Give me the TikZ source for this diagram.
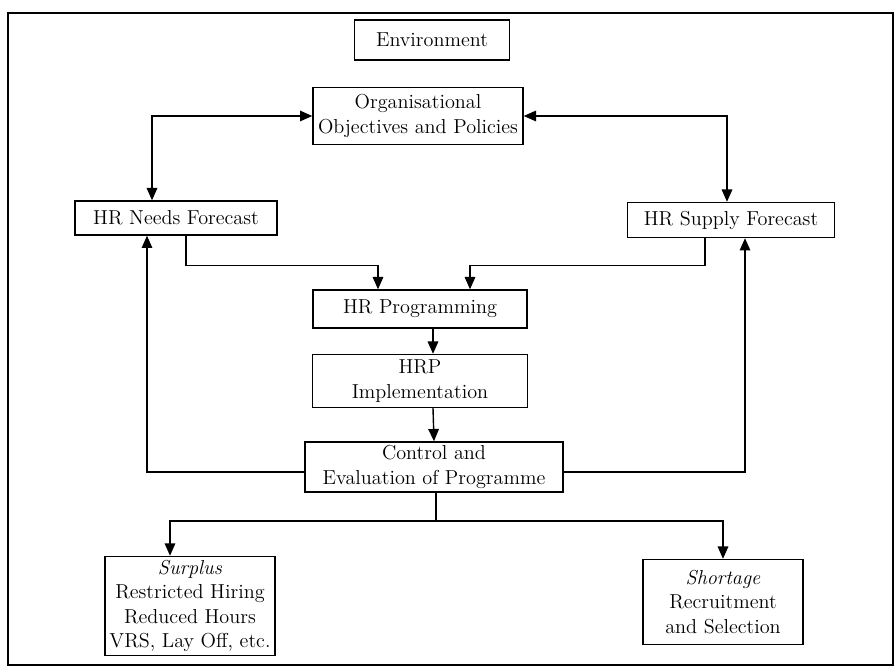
\documentclass[tikz,border=0pt]{standalone}
\usetikzlibrary{arrows.meta}

\begin{document}
\begin{tikzpicture}[
    box/.style={draw,rectangle,line width=0.8pt,align=center,inner sep=2pt,font=\fontsize{11.5}{14}\selectfont},
    link/.style={line width=0.8pt,-{Triangle[width=6pt,length=7pt]}},
    both/.style={line width=0.8pt,{Triangle[width=6pt,length=7pt]}-{Triangle[width=6pt,length=7pt]}}
]
    \useasboundingbox (0,0) rectangle (17.9,13.4);

    % Outer frame
    \draw[line width=1.1pt] (0.16,0.1) rectangle (17.86,13.14);

    % Environment
    \node[box,minimum width=3.1cm,minimum height=0.8cm] (env) at (8.64,12.6) {Environment};

    % Objectives
    \node[box,minimum width=4.2cm,minimum height=1.14cm] (org) at (8.36,11.08) {Organisational\\Objectives and Policies};

    % Forecasts
    \node[box,minimum width=4.04cm,minimum height=0.68cm] (needs) at (3.52,9.04) {HR Needs Forecast};
    \node[box,minimum width=4.14cm,minimum height=0.7cm] (supply) at (14.62,9.0) {HR Supply Forecast};

    % Programming and implementation
    \node[box,minimum width=4.28cm,minimum height=0.76cm] (prog) at (8.4,7.22) {HR Programming};
    \node[box,minimum width=4.3cm,minimum height=1.06cm] (impl) at (8.4,5.78) {HRP\\Implementation};

    % Control
    \node[box,minimum width=5.16cm,minimum height=0.9cm] (ctrl) at (8.68,4.06) {Control and\\Evaluation of Programme};

    % Outcomes
    \node[box,minimum width=3.4cm,minimum height=1.94cm] (surplus) at (3.8,1.28) {\textit{Surplus}\\Restricted Hiring\\Reduced Hours\\VRS, Lay Off, etc.};
    \node[box,minimum width=3.2cm,minimum height=1.7cm] (shortage) at (14.46,1.36) {\textit{Shortage}\\Recruitment\\and Selection};

    % Links to objectives
    \draw[both] ([xshift=-0.48cm]needs.north) |- (org.west);
    \draw[both] (org.east) -| ([xshift=-0.08cm]supply.north);

    % Forecasts into programming
    \draw[link] ([xshift=0.2cm]needs.south) -- ++(0,-0.6) -| ([xshift=-0.84cm]prog.north);
    \draw[link] ([xshift=-0.52cm]supply.south) -- ++(0,-0.55) -| ([xshift=1.0cm]prog.north);

    % Main chain
    \draw[link] ([xshift=0.26cm]prog.south) -- ([xshift=0.26cm]impl.north);
    \draw[link] ([xshift=0.26cm]impl.south) -- (ctrl.north);

    % Feedback
    \draw[link] ([yshift=-0.1cm]ctrl.west) -| ([xshift=-0.58cm]needs.south);
    \draw[link] ([yshift=-0.1cm]ctrl.east) -| ([xshift=0.28cm]supply.south);

    % Surplus or shortage
    \coordinate (split) at ([xshift=0.04cm,yshift=-0.57cm]ctrl.south);
    \draw[line width=0.8pt] ([xshift=0.04cm]ctrl.south) -- (split);
    \draw[link] (split) -| ([xshift=-0.4cm]surplus.north);
    \draw[link] (split) -| (shortage.north);
\end{tikzpicture}
\end{document}
